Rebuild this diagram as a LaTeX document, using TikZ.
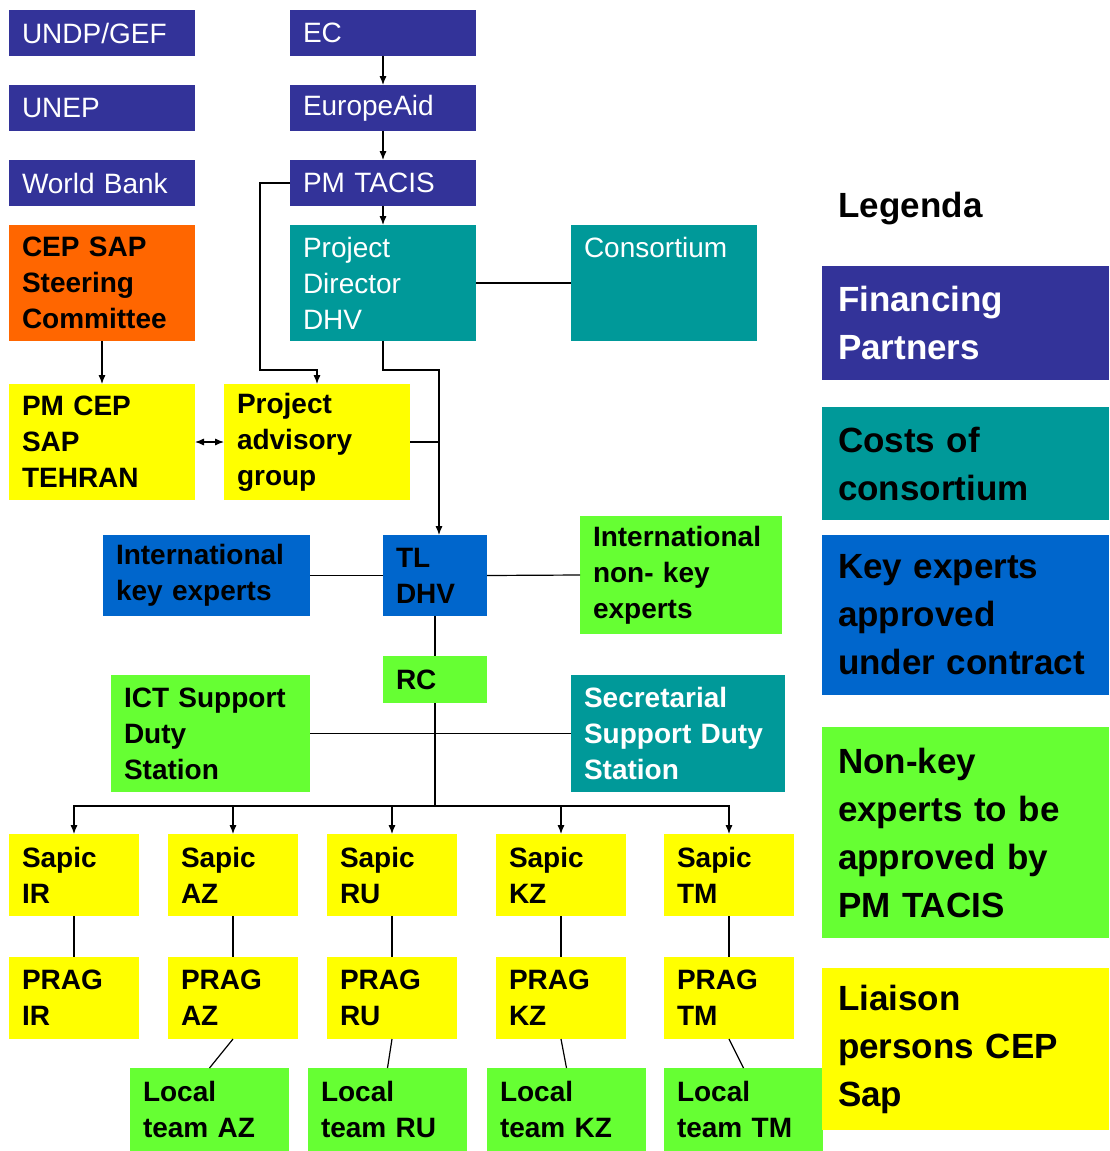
\documentclass[tikz,border=0pt]{standalone}
\usepackage{fontspec}
\setmainfont{Liberation Sans}
\usetikzlibrary{arrows.meta,positioning,calc}
\definecolor{cepnavy}{HTML}{333399}
\definecolor{cepteal}{HTML}{009999}
\definecolor{ceporange}{HTML}{FF6600}
\definecolor{cepyellow}{HTML}{FFFF00}
\definecolor{cepblue}{HTML}{0066CC}
\definecolor{cepgreen}{HTML}{66FF33}

\begin{document}
\begin{tikzpicture}[
 x=0.5pt, y=-0.5pt, line width=0.6pt,
 >={Latex[length=4.5pt,width=3.6pt]},
 box/.style={anchor=north west,align=left,inner xsep=6.5pt,inner ysep=0pt,outer sep=0pt,font=\fontsize{14}{18}\selectfont},
 bold/.style={font=\fontsize{14}{18}\selectfont\bfseries},
 fin/.style={box,fill=cepnavy,text=white},
 cost/.style={box,fill=cepteal,text=white},
 steer/.style={box,bold,fill=ceporange},
 liaison/.style={box,bold,fill=cepyellow},
 keyexp/.style={box,bold,fill=cepblue},
 nonkey/.style={box,bold,fill=cepgreen},
 short/.style={text width=80pt,minimum height=23pt},
 tall/.style={text width=80pt,minimum height=58pt},
 country/.style={text width=52pt,minimum height=41pt},
 local/.style={text width=66.5pt,minimum height=41.5pt},
 legend/.style={anchor=north west,align=left,inner xsep=8pt,inner ysep=0pt,outer sep=0pt,text width=127.5pt,font=\fontsize{17.5}{24}\selectfont\bfseries}
]
\useasboundingbox (0,0) rectangle (1109,1151);

% financing partners
\node[fin,short] (undp) at (9,10) {UNDP/GEF};
\node[fin,short,below=14.5pt of undp] (unep) {UNEP};
\node[fin,short,below=14.5pt of unep] (wb) {World Bank};
\node[fin,short] (ec) at (290,10) {EC};
\node[fin,short,below=14.5pt of ec] (europeaid) {EuropeAid};
\node[fin,short,below=14.5pt of europeaid] (pmtacis) {PM TACIS};

\node[steer,tall,below=9.5pt of wb] (steering) {CEP SAP\\Steering\\Committee};
\node[cost,tall,below=9.5pt of pmtacis] (director) {Project\\Director\\DHV};
\node[cost,tall] (consortium) at (571,225) {Consortium\\\mbox{}\\\mbox{}};
\node[liaison,tall] (pmcep) at (9,384) {PM CEP\\SAP\\TEHRAN};
\node[liaison,tall] (advisory) at (224,384) {Project\\advisory\\group};

% team leader level
\node[keyexp,text width=39pt,minimum height=40.5pt] (tl) at (383,535) {TL\\DHV};
\node[keyexp,text width=90.5pt,minimum height=40.5pt] (keyexp) at (103,535) {International\\key experts};
\node[nonkey,text width=88pt,minimum height=59pt] (nonkeyexp) at (580,516) {International\\non- key\\experts};
\node[nonkey,text width=39pt,minimum height=23.5pt] (rc) at (383,656) {RC};
\node[nonkey,text width=86.5pt,minimum height=58.5pt] (ict) at (111,675) {ICT Support\\Duty\\Station};
\node[cost,bold,text width=94pt,minimum height=58.5pt] (secret) at (571,675) {Secretarial\\Support Duty\\Station};

\draw[->] (ec) -- (europeaid);
\draw[->] (europeaid) -- (pmtacis);
\draw[->] (pmtacis) -- (director);
\draw[->] (pmtacis.west) -- ++(-30,0) |- ($(advisory.north)+(0,-14)$) -- (advisory.north);
\draw[->] (director.south) -- ++(0,29) -| ([xshift=2pt]tl.north);
\draw (advisory.east) -- ([xshift=2pt]tl.north |- advisory.east);
\draw (director.east) -- (consortium.west |- director.east);
\draw[->] (steering) -- (pmcep);
\draw[<->] (pmcep.east) -- (advisory.west);
\draw (keyexp.east) -- (tl.west);
\draw (tl.east) -- (nonkeyexp.west);
\draw (tl) -- (rc);
\draw (ict.east) -- (secret.west);

% country level
\coordinate (hub) at ($(rc.south)+(0,103)$);
\draw (rc.south) -- (hub);
\foreach \c/\x/\lbl in {ir/9/IR,az/168/AZ,ru/327/RU,kz/496/KZ,tm/664/TM} {
 \node[liaison,country] (s\c) at (\x,834) {Sapic\\\lbl};
 \node[liaison,country,below=20.5pt of s\c] (p\c) {PRAG\\\lbl};
 \draw[->] (hub) -| (s\c.north);
 \draw (s\c) -- (p\c);
}
\foreach \c/\x/\lbl in {az/130/AZ,ru/308/RU,kz/487/KZ,tm/664/TM} {
 \node[nonkey,local] (l\c) at (\x,1068) {Local\\team \lbl};
 \draw (p\c.south) -- (l\c.north);
}

% legend
\node[anchor=base west,inner sep=0pt,font=\fontsize{17.5}{24}\selectfont\bfseries] (legenda) at (838,217) {Legenda};
\node[legend,fill=cepnavy,text=white,minimum height=57pt] (lfin) at (822,266) {Financing\\Partners};
\node[legend,fill=cepteal,minimum height=56.5pt] (lcost) at (822,407) {Costs of\\consortium};
\node[legend,fill=cepblue,minimum height=80pt] (lkey) at (822,535) {Key experts\\approved\\under contract};
\node[legend,fill=cepgreen,minimum height=105.5pt] (lnonkey) at (822,727) {Non-key\\experts to be\\approved by\\PM TACIS};
\node[legend,fill=cepyellow,minimum height=81pt] (lliaison) at (822,968) {Liaison\\persons CEP\\Sap};
\end{tikzpicture}
\end{document}
